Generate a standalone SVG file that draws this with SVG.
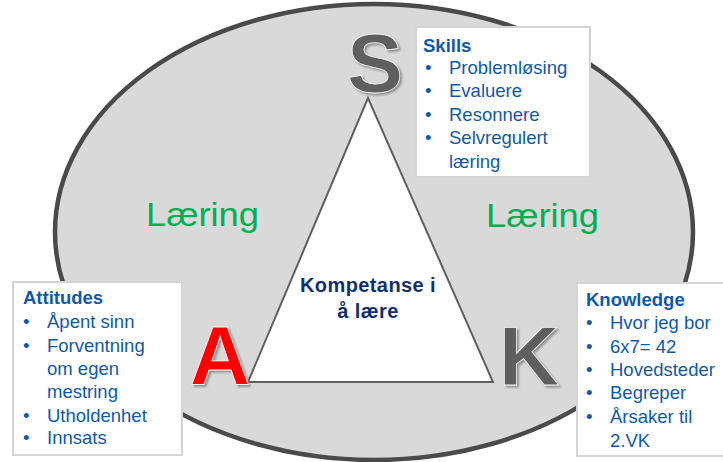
<svg xmlns="http://www.w3.org/2000/svg" width="723" height="462" viewBox="0 0 723 462">
<style>
.box{fill:#ffffff;stroke:#d4d4d4;stroke-width:2}
.t{font-family:"Liberation Sans",Arial,sans-serif;font-size:18.5px;fill:#0f5aa6}
.h{font-weight:bold}
.big{font-family:"Liberation Sans",Arial,sans-serif;font-size:84px;font-weight:bold;text-anchor:middle;stroke:#f2f2f2;stroke-width:0.8;filter:url(#shadow)}
.lr{font-family:"Liberation Sans",Arial,sans-serif;font-size:34px;fill:#00b050}
.k{font-family:"Liberation Sans",Arial,sans-serif;font-size:20px;font-weight:bold;fill:#132f6b;text-anchor:middle;letter-spacing:0.4px}
</style>
<defs>
<filter id="shadow" x="-20%" y="-20%" width="140%" height="140%">
<feDropShadow dx="2" dy="2" stdDeviation="0.8" flood-color="#808080" flood-opacity="0.8"/>
</filter>
</defs>
<rect width="723" height="462" fill="#ffffff"/>
<g id="ellipse">
<ellipse cx="374" cy="232" rx="319" ry="228" fill="#d9d9d9" stroke="#4a4a4a" stroke-width="4.5"/>
</g>
<g id="laering-left"><text class="lr" x="146" y="226" textLength="113" lengthAdjust="spacingAndGlyphs">Læring</text></g>
<g id="laering-right"><text class="lr" x="486" y="227" textLength="113" lengthAdjust="spacingAndGlyphs">Læring</text></g>
<g id="triangle">
<polygon points="368,98 248,382 493,382" fill="#ffffff" stroke="#606060" stroke-width="2"/>
<text class="k" x="368" y="292">Kompetanse  i</text>
<text class="k" x="368" y="318">å lære</text>
</g>
<g id="S">
<text class="big" x="375" y="92" fill="#5f5f5f">S</text>
</g>
<g id="A">
<text class="big" x="220" y="385" fill="#ff0000">A</text>
</g>
<g id="K">
<text class="big" x="529" y="385" fill="#5f5f5f">K</text>
</g>
<g id="skills">
<rect class="box" x="416" y="27" width="174" height="150"/>
<text class="t h" x="423" y="52">Skills</text>
<text class="t" x="425" y="74">•</text><text class="t" x="449" y="74">Problemløsing</text>
<text class="t" x="425" y="97">•</text><text class="t" x="449" y="97">Evaluere</text>
<text class="t" x="425" y="121">•</text><text class="t" x="449" y="121">Resonnere</text>
<text class="t" x="425" y="144">•</text><text class="t" x="449" y="144">Selvregulert</text>
<text class="t" x="449" y="168">læring</text>
</g>
<g id="attitudes">
<rect class="box" x="13" y="282" width="169" height="173"/>
<text class="t h" x="23" y="304">Attitudes</text>
<text class="t" x="23" y="328">•</text><text class="t" x="47" y="328">Åpent sinn</text>
<text class="t" x="23" y="352">•</text><text class="t" x="47" y="352">Forventning</text>
<text class="t" x="47" y="375">om egen</text>
<text class="t" x="47" y="398">mestring</text>
<text class="t" x="23" y="422">•</text><text class="t" x="47" y="422">Utholdenhet</text>
<text class="t" x="23" y="444">•</text><text class="t" x="47" y="444">Innsats</text>
</g>
<g id="knowledge">
<rect class="box" x="577" y="283" width="160" height="173"/>
<text class="t h" x="586" y="306">Knowledge</text>
<text class="t" x="586" y="329">•</text><text class="t" x="610" y="329">Hvor jeg bor</text>
<text class="t" x="586" y="353">•</text><text class="t" x="610" y="353">6x7= 42</text>
<text class="t" x="586" y="376">•</text><text class="t" x="610" y="376">Hovedsteder</text>
<text class="t" x="586" y="399">•</text><text class="t" x="610" y="399">Begreper</text>
<text class="t" x="586" y="423">•</text><text class="t" x="610" y="423">Årsaker til</text>
<text class="t" x="610" y="447">2.VK</text>
</g>
<g id="connectors"/>
</svg>
